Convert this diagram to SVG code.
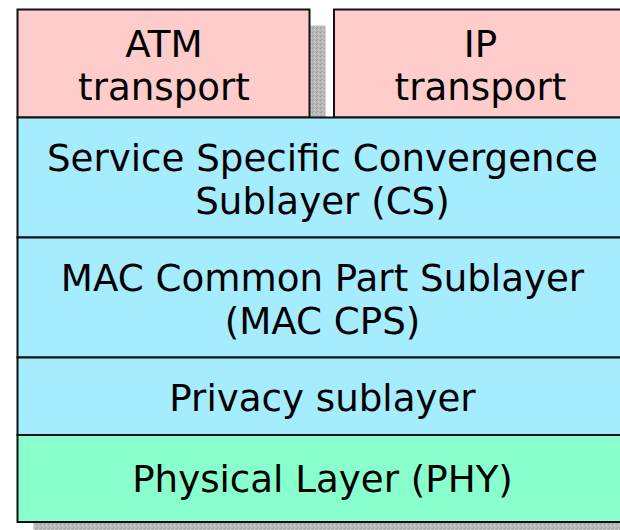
<svg xmlns="http://www.w3.org/2000/svg" width="620" height="530" viewBox="0 0 620 530">
<defs>
<pattern id="grain" width="4" height="4" patternUnits="userSpaceOnUse">
<rect width="4" height="4" fill="#b8b8b8"/>
<rect x="0" y="0" width="1" height="1" fill="#9a9a9a"/>
<rect x="2" y="1" width="1" height="1" fill="#d0d0d0"/>
<rect x="1" y="3" width="1" height="1" fill="#a4a4a4"/>
<rect x="3" y="2" width="1" height="1" fill="#cacaca"/>
</pattern>
</defs>
<style>
.box{stroke:#111;stroke-width:2}
.pink{fill:#ffcccc}
.cyan{fill:#a6ecff}
.green{fill:#88ffcc}
.shadow{fill:url(#grain)}
text{font-family:"DejaVu Sans","Verdana",sans-serif;font-size:37.2px;fill:#000;text-anchor:middle}
</style>
<rect width="620" height="530" fill="#fff"/>
<g id="shadows">
<rect class="shadow" x="33.5" y="25.5" width="292" height="110"/>
<rect class="shadow" x="33.5" y="134" width="620" height="404"/>
</g>
<g id="atm">
<rect class="box pink" x="17.5" y="9.5" width="292" height="108"/>
<text x="164" y="57">ATM</text>
<text x="164" y="100">transport</text>
</g>
<g id="ip">
<rect class="box pink" x="334" y="9.5" width="300" height="108"/>
<text x="480.5" y="57">IP</text>
<text x="480.5" y="100">transport</text>
</g>
<g id="cs">
<rect class="box cyan" x="17.5" y="117.5" width="620" height="120"/>
<text x="322.5" y="170.5">Service Specific Convergence</text>
<text x="322.5" y="213.5">Sublayer (CS)</text>
</g>
<g id="mac">
<rect class="box cyan" x="17.5" y="237.5" width="620" height="120"/>
<text x="322.5" y="290.5">MAC Common Part Sublayer</text>
<text x="322.5" y="333.5">(MAC CPS)</text>
</g>
<g id="privacy">
<rect class="box cyan" x="17.5" y="357.5" width="620" height="77.5"/>
<text x="322.5" y="410.5">Privacy sublayer</text>
</g>
<g id="phy">
<rect class="box green" x="17.5" y="435" width="620" height="87"/>
<text x="322.5" y="491.5">Physical Layer (PHY)</text>
</g>
<g id="connectors"></g>
</svg>
